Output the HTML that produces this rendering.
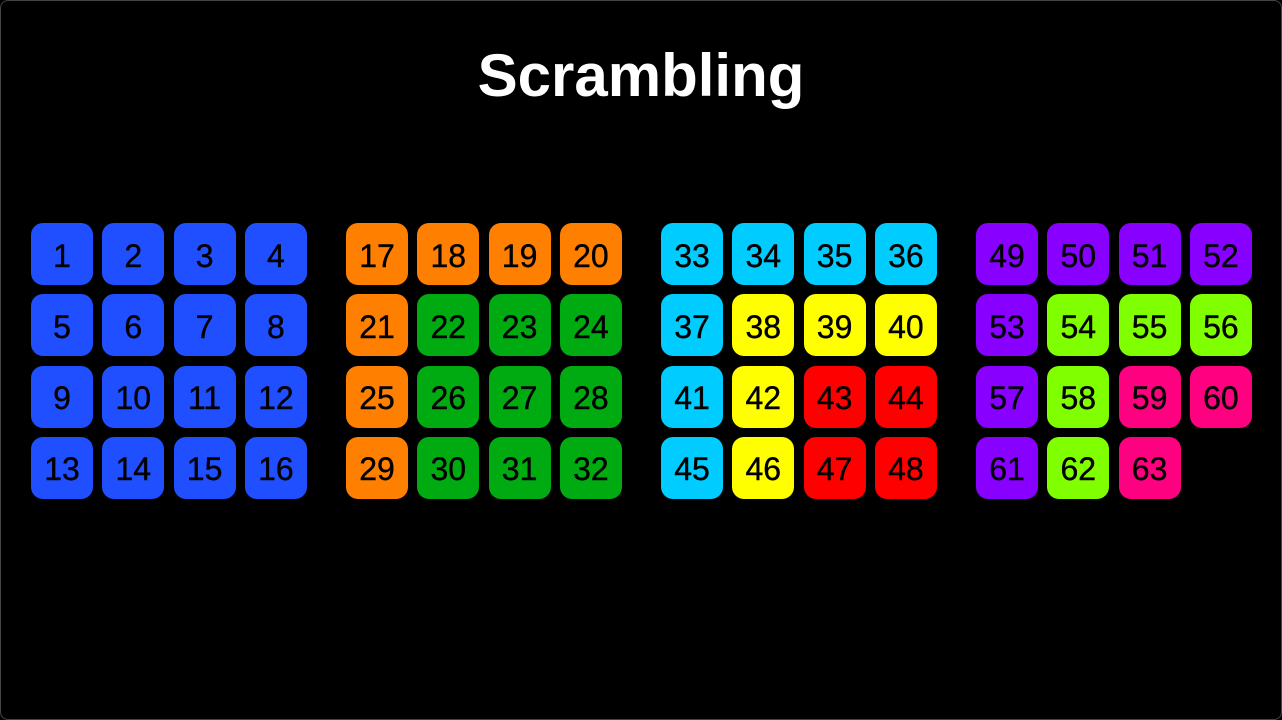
<!DOCTYPE html>
<html><head><style>
body{margin:0;background:#000;}
#f{position:relative;width:1280px;height:718px;border:1px solid #444;border-radius:8px;background:#000;overflow:hidden;}
h1{position:absolute;top:40px;left:0;width:1280px;text-align:center;margin:0;font:600 60px "Liberation Sans",sans-serif;color:#fff;}
.t{position:absolute;width:62px;height:62px;border-radius:12px;display:flex;align-items:center;justify-content:center;font:32px "Liberation Sans",sans-serif;color:#000;box-sizing:border-box;padding-top:4px;-webkit-text-stroke:0.4px #000;}
</style></head><body><div id="f"><h1>Scrambling</h1>
<script>
const B='#1f4fff',O='#ff8000',G='#00aa11',C='#00ccff',Y='#ffff00',R='#ff0000',P='#8800ff',L='#80ff00',K='#ff0080';
const cols=[
[B,B,B,B,B,B,B,B,B,B,B,B,B,B,B,B],
[O,O,O,O,O,G,G,G,O,G,G,G,O,G,G,G],
[C,C,C,C,C,Y,Y,Y,C,Y,R,R,C,Y,R,R],
[P,P,P,P,P,L,L,L,P,L,K,K,P,L,K]];
let h='';
cols.forEach((g,gi)=>g.forEach((c,i)=>{
const n=gi*16+i+1,x=30+gi*315+(i%4)*71.3,y=222+Math.floor(i/4)*71.3;
h+=`<div class="t" style="left:${x}px;top:${y}px;background:${c}">${n}</div>`;}));
document.getElementById('f').insertAdjacentHTML('beforeend',h);
</script></div></body></html>
